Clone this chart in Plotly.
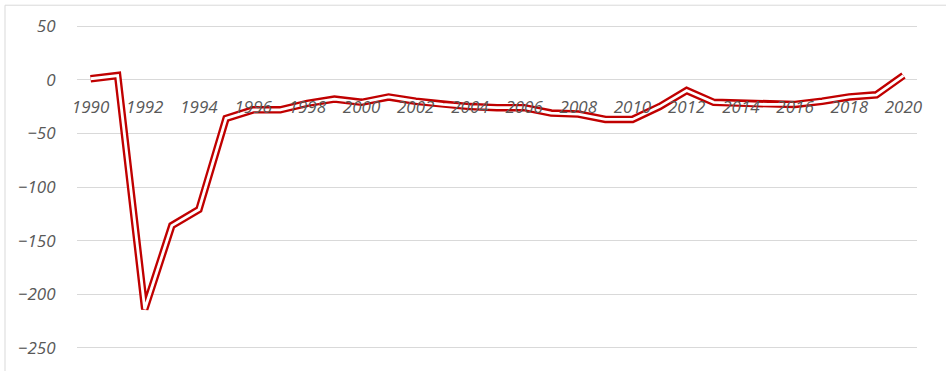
import plotly.graph_objects as go

years = list(range(1990, 2021))
values = [1, 4, -214, -136, -121, -36, -28, -28, -22, -18, -21, -16, -20, -23, -25,
          -26, -26, -31, -32, -37, -37, -25, -10, -21, -22, -23, -23, -20, -16, -14, 4]
x_ticks = list(range(1990, 2021, 2))
y_ticks = [50, 0, -50, -100, -150, -200, -250]

RED = "#C00000"
TICKFONT = dict(family="Open Sans", size=17, color="#595959", style="italic")

fig = go.Figure()
fig.add_trace(go.Scatter(x=years, y=values, mode="lines",
                         line=dict(color=RED, width=7.5), hoverinfo="skip"))
fig.add_trace(go.Scatter(x=years, y=values, mode="lines",
                         line=dict(color="white", width=2.8)))

L, R, T, B = 77, 29, 23, 16
W, H = 946, 371
ymin, ymax = -253, 53
pos0 = (0 - ymin) / (ymax - ymin)

fig.update_layout(
    width=W, height=H,
    margin=dict(l=L, r=R, t=T, b=B),
    paper_bgcolor="white", plot_bgcolor="white",
    showlegend=False,
    xaxis=dict(range=[1989.5, 2020.5], tickvals=x_ticks, ticktext=[str(v) for v in x_ticks],
               anchor="free", position=pos0, showgrid=False, showline=False, zeroline=False,
               ticks="outside", ticklen=12, tickcolor="rgba(0,0,0,0)",
               tickfont=TICKFONT),
    yaxis=dict(range=[ymin, ymax], tickvals=y_ticks, showgrid=True, gridcolor="#D9D9D9",
               gridwidth=1, zeroline=True, zerolinecolor="#D9D9D9", zerolinewidth=1,
               showline=False, ticks="outside", ticklen=17, tickcolor="rgba(0,0,0,0)",
               tickfont=TICKFONT),
)

# outer chart frame (left and top edges visible)
pw, ph = W - L - R, H - T - B
fx0 = (5 - L) / pw
fy1 = 1 + (T - 5) / ph
fig.add_shape(type="line", xref="paper", yref="paper", x0=fx0, x1=fx0, y0=-0.2, y1=fy1,
              line=dict(color="#D9D9D9", width=1))
fig.add_shape(type="line", xref="paper", yref="paper", x0=fx0, x1=1.2, y0=fy1, y1=fy1,
              line=dict(color="#D9D9D9", width=1))

fig.write_html("out.html")
